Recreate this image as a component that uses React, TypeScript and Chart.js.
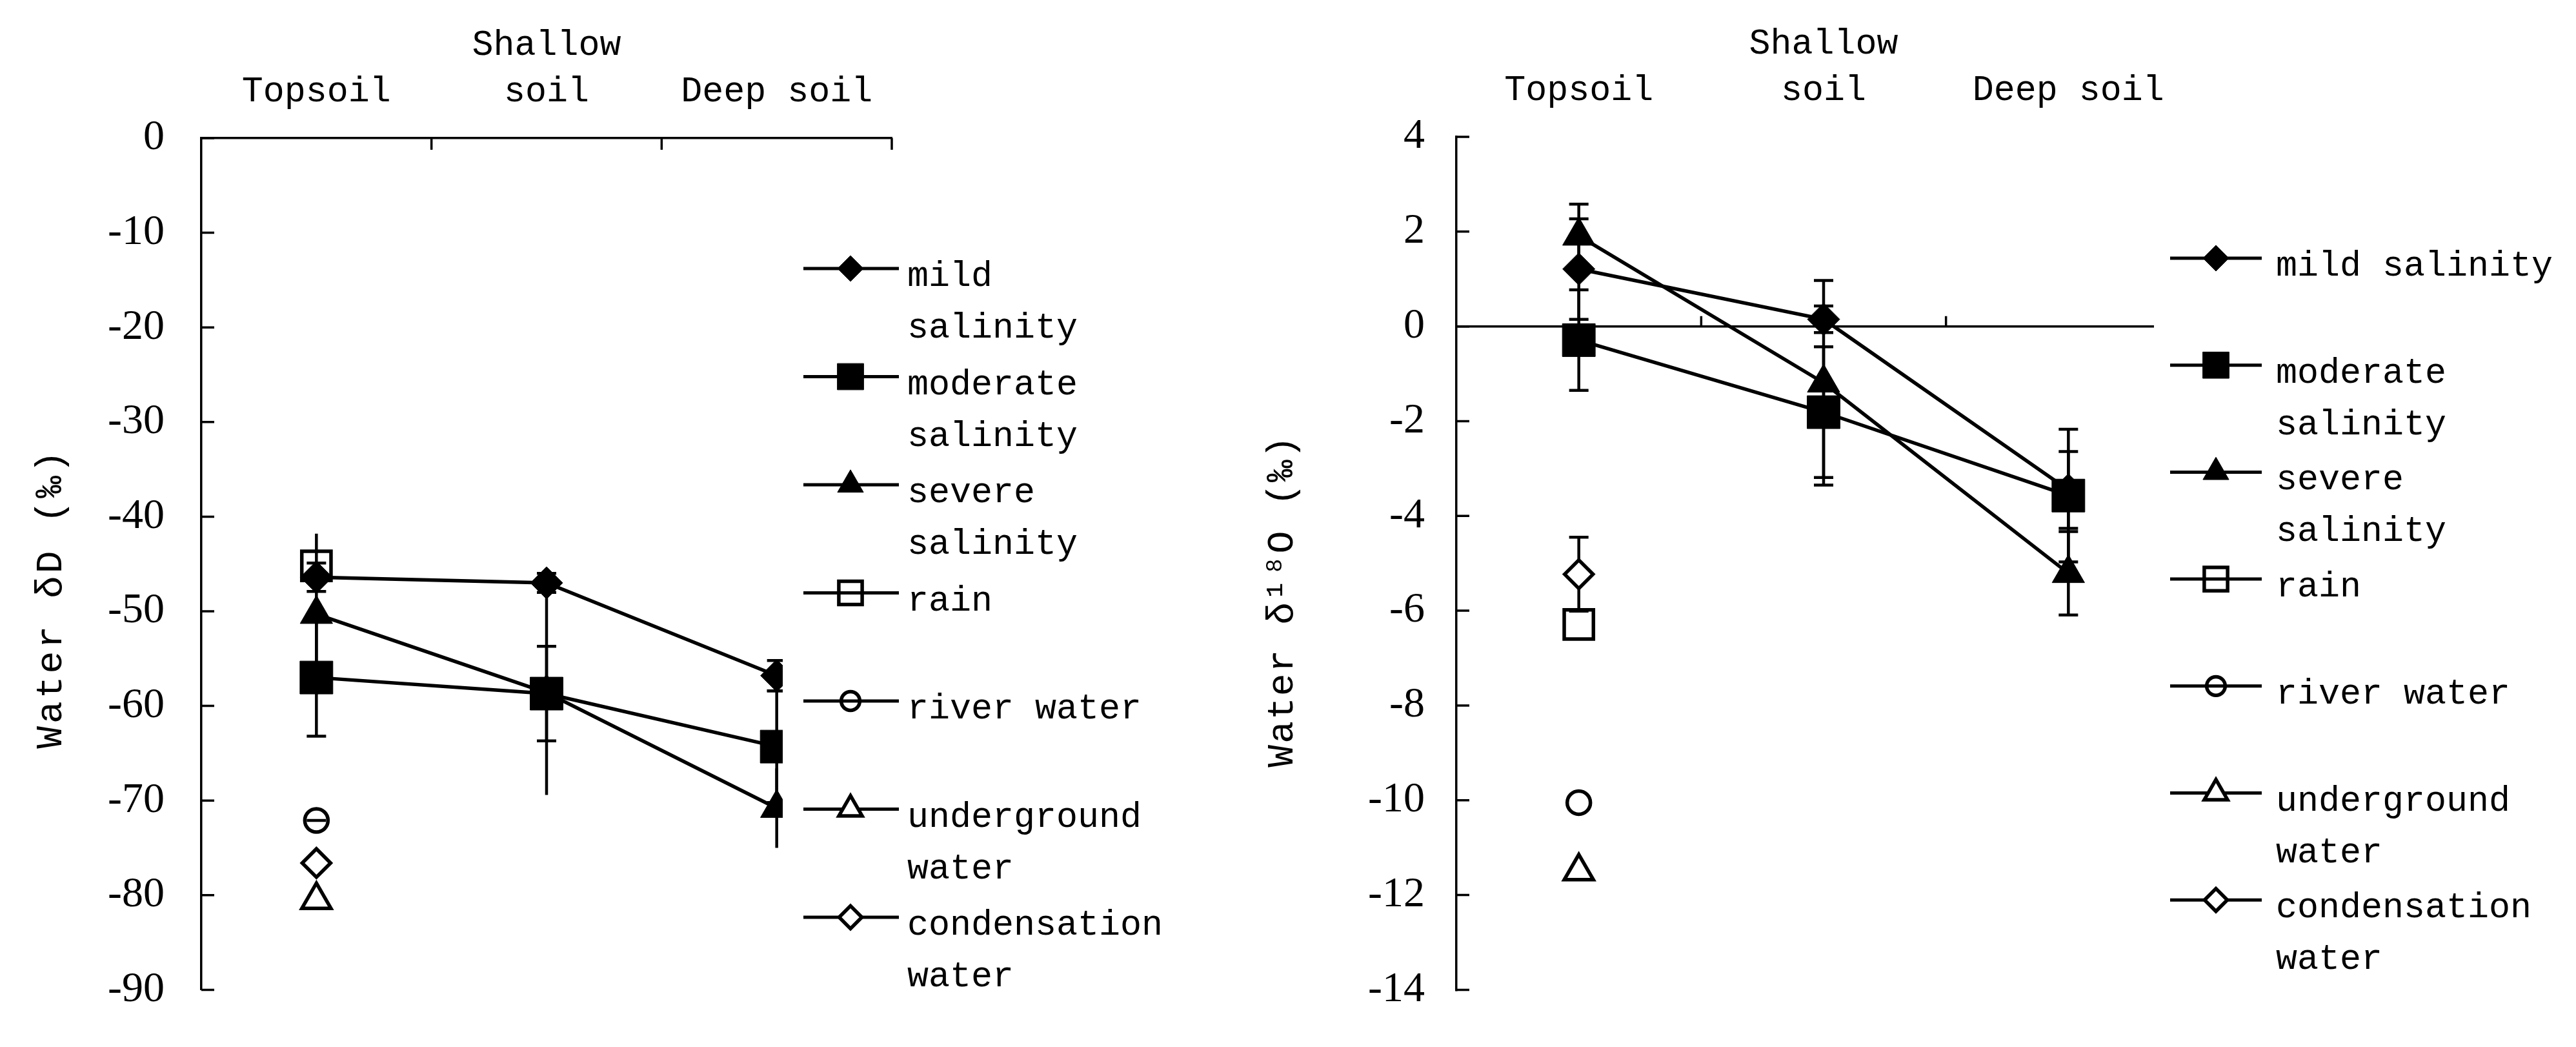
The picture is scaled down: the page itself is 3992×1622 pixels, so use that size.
import React, { useEffect, useRef } from "react";
import { Chart, registerables } from "chart.js";
import { drawPoint } from "chart.js/helpers";

Chart.register(...registerables);

// categories (top axis) and series names
const soilLayers = ["Topsoil", ["Shallow", "soil"], "Deep soil"];
const seriesNames = [
  "mild salinity",
  "moderate salinity",
  "severe salinity",
  "rain",
  "river water",
  "underground water",
  "condensation water",
];

// left panel: water δD (‰), mean and error (±)
const dMild = [-46.4, -47.0, -56.8];
const dModerate = [-57.0, -58.7, -64.3];
const dSevere = [-50.3, -58.6, -70.8];
const dRain = [-45.2, null, null];
const dRiver = [-72.1, null, null];
const dUnderground = [-80.5, null, null];
const dCondensation = [-76.6, null, null];

const dMildErr = [1.5, 1.0, 1.6];
const dModerateErr = [6.2, 5.0, 5.9];
const dSevereErr = [8.5, 10.8, 4.2];
const dRiverErr = [0, null, null];

// right panel: water δ18O (‰), mean and error (±)
const oMild = [1.21, 0.15, -3.45];
const oModerate = [-0.29, -1.81, -3.57];
const oSevere = [1.91, -1.19, -5.21];
const oRain = [-6.29, null, null];
const oRiver = [-10.05, null, null];
const oUnderground = [-11.5, null, null];
const oCondensation = [-5.23, null, null];

const oMildErr = [1.06, 0.28, 0.81];
const oModerateErr = [1.06, 1.38, 1.4];
const oSevereErr = [0.67, 2.16, 0.88];
const oCondensationErr = [0.78, null, null];

// legend wording, as wrapped in each panel
const legendLinesLeft = [
  ["mild", "salinity"],
  ["moderate", "salinity"],
  ["severe", "salinity"],
  ["rain"],
  ["river water"],
  ["underground", "water"],
  ["condensation", "water"],
];
const legendLinesRight = [
  ["mild salinity"],
  ["moderate", "salinity"],
  ["severe", "salinity"],
  ["rain"],
  ["river water"],
  ["underground", "water"],
  ["condensation", "water"],
];

const MONO = "'Liberation Mono', 'DejaVu Sans Mono', monospace";
const SERIF = "'Liberation Serif', 'DejaVu Serif', serif";
const H = 1622;

const markers = [
  { pointStyle: "rectRot", radius: 25, fill: "#000", line: true },
  { pointStyle: "rect", radius: 36, fill: "#000", line: true },
  { pointStyle: "triangle", radius: 29, fill: "#000", line: true },
  { pointStyle: "rect", radius: 32, fill: "rgba(255,255,255,0)", line: false },
  { pointStyle: "circle", radius: 18, fill: "rgba(255,255,255,0)", line: false },
  { pointStyle: "triangle", radius: 26, fill: "#fff", line: false },
  { pointStyle: "rectRot", radius: 22, fill: "#fff", line: false },
];

const makeDatasets = (values: any[], errors: any[], caps: number[]) =>
  values.map((data, i) => {
    const m = markers[i];
    const filled = m.fill === "#000";
    return {
      label: seriesNames[i],
      data,
      errors: errors[i],
      errorCap: caps[i],
      showLine: m.line,
      borderColor: "#000",
      borderWidth: 5.5,
      pointStyle: m.pointStyle,
      pointRadius: m.radius,
      pointHoverRadius: m.radius,
      pointBackgroundColor: m.fill,
      pointBorderColor: "#000",
      pointBorderWidth: filled ? 1 : 5.5,
      tension: 0,
      clip: false,
    };
  });

// error bars are drawn just before their own series
const errorBars = {
  id: "errorBars",
  beforeDatasetDraw(chart: any, args: any) {
    const ds = chart.data.datasets[args.index];
    if (!ds.errors) return;
    const yScale = chart.scales.y;
    const ctx = chart.ctx;
    ctx.save();
    ctx.strokeStyle = "#000";
    ctx.lineWidth = 4.5;
    chart.getDatasetMeta(args.index).data.forEach((pt: any, i: number) => {
      const v = ds.data[i];
      const e = ds.errors[i];
      if (v == null || e == null) return;
      const top = yScale.getPixelForValue(v + e);
      const bot = yScale.getPixelForValue(v - e);
      const c = ds.errorCap;
      ctx.beginPath();
      ctx.moveTo(pt.x, top);
      ctx.lineTo(pt.x, bot);
      if (c > 0) {
        ctx.moveTo(pt.x - c, top);
        ctx.lineTo(pt.x + c, top);
        ctx.moveTo(pt.x - c, bot);
        ctx.lineTo(pt.x + c, bot);
      }
      ctx.stroke();
    });
    ctx.restore();
  },
};

// tick marks pointing into the plot
const innerTicks = (xAtZero: boolean) => ({
  id: "innerTicks",
  beforeDatasetsDraw(chart: any) {
    const { ctx, chartArea } = chart;
    const x = chart.scales.x;
    const y = chart.scales.y;
    ctx.save();
    ctx.strokeStyle = "#000";
    ctx.lineWidth = 3.5;
    ctx.beginPath();
    y.ticks.forEach((t: any) => {
      const py = y.getPixelForValue(t.value);
      ctx.moveTo(chartArea.left, py);
      ctx.lineTo(chartArea.left + 20, py);
    });
    const n = soilLayers.length;
    for (let k = 1; k <= n; k++) {
      const px = x.getPixelForDecimal(k / n);
      if (xAtZero) {
        const py = y.getPixelForValue(0);
        ctx.moveTo(px, py);
        ctx.lineTo(px, py - 16);
      } else {
        ctx.moveTo(px, chartArea.top);
        ctx.lineTo(px, chartArea.top + 18);
      }
    }
    ctx.stroke();
    ctx.restore();
  },
});

const axisTitle = (text: string, x: number, y: number, spacing: number) => ({
  id: "axisTitle",
  afterDraw(chart: any) {
    const ctx = chart.ctx;
    ctx.save();
    ctx.translate(x, y);
    ctx.rotate(-Math.PI / 2);
    ctx.font = `58px ${MONO}`;
    ctx.letterSpacing = `${spacing}px`;
    ctx.fillStyle = "#000";
    ctx.textAlign = "center";
    ctx.textBaseline = "middle";
    ctx.fillText(text, 0, 0);
    ctx.restore();
  },
});

const boxLegend = (o: any) => ({
  id: "boxLegend",
  afterDraw(chart: any) {
    const ctx = chart.ctx;
    ctx.save();
    ctx.fillStyle = "#fff";
    ctx.fillRect(o.boxX, o.boxY, o.boxW, o.boxH);
    ctx.font = `55px ${MONO}`;
    ctx.textAlign = "left";
    ctx.textBaseline = "alphabetic";
    chart.data.datasets.forEach((ds: any, i: number) => {
      const y = o.startY + i * o.stepY;
      ctx.strokeStyle = "#000";
      ctx.lineWidth = 5;
      ctx.beginPath();
      ctx.moveTo(o.lineX0, y);
      ctx.lineTo(o.lineX1, y);
      ctx.stroke();
      ctx.fillStyle = ds.pointBackgroundColor;
      ctx.lineWidth = ds.pointBorderWidth;
      drawPoint(
        ctx,
        { pointStyle: ds.pointStyle, radius: ds.pointRadius * 0.8, borderWidth: ds.pointBorderWidth, rotation: 0 } as any,
        o.markerX,
        y
      );
      ctx.fillStyle = "#000";
      o.labels[i].forEach((line: string, j: number) => {
        ctx.fillText(line, o.textX, y + 27 + j * 80);
      });
    });
    ctx.restore();
  },
});

const baseOptions = (opts: any) => ({
  responsive: false,
  animation: false,
  events: [],
  layout: { padding: { left: 0, top: 0, right: opts.padRight, bottom: opts.padBottom } },
  plugins: { legend: { display: false }, tooltip: { enabled: false }, title: { display: false } },
  scales: {
    x: {
      type: "category",
      position: "top",
      offset: true,
      grid: { display: false },
      border: { display: opts.topBorder, color: "#000", width: 3.5 },
      ticks: {
        autoSkip: false,
        maxRotation: 0,
        padding: 28,
        color: "#000",
        font: { family: MONO, size: 55, lineHeight: "72px" },
      },
      afterFit: (s: any) => {
        s.height = opts.top;
      },
    },
    y: {
      min: opts.min,
      max: opts.max,
      grid: opts.grid,
      border: { display: true, color: "#000", width: 3.5 },
      ticks: {
        stepSize: opts.step,
        padding: 49,
        color: "#000",
        font: { family: SERIF, size: 66 },
      },
      afterFit: (s: any) => {
        s.width = opts.left;
      },
    },
  },
});

const leftConfig = () => ({
  type: "line",
  data: {
    labels: soilLayers,
    datasets: makeDatasets(
      [dMild, dModerate, dSevere, dRain, dRiver, dUnderground, dCondensation],
      [dMildErr, dModerateErr, dSevereErr, null, dRiverErr, null, null],
      [15, 15, 0, 0, 15, 0, 0]
    ),
  },
  options: baseOptions({
    padRight: 568,
    padBottom: 70,
    top: 214,
    left: 312,
    min: -90,
    max: 0,
    step: 10,
    topBorder: true,
    grid: { display: false },
  }),
  plugins: [
    innerTicks(false),
    errorBars,
    axisTitle("Water δD (‰)", 80, 927, 4),
    boxLegend({
      boxX: 1213,
      boxY: 340,
      boxW: 737,
      boxH: 1210,
      lineX0: 1245,
      lineX1: 1393,
      markerX: 1318,
      textX: 1406,
      startY: 416,
      stepY: 167.5,
      labels: legendLinesLeft,
    }),
  ],
});

const rightConfig = () => ({
  type: "line",
  data: {
    labels: soilLayers,
    datasets: makeDatasets(
      [oMild, oModerate, oSevere, oRain, oRiver, oUnderground, oCondensation],
      [oMildErr, oModerateErr, oSevereErr, null, null, null, oCondensationErr],
      [15, 15, 15, 0, 0, 0, 15]
    ),
  },
  options: baseOptions({
    padRight: 597,
    padBottom: 60,
    top: 212,
    left: 307,
    min: -14,
    max: 4,
    step: 2,
    topBorder: false,
    grid: {
      drawTicks: false,
      lineWidth: 3.5,
      color: (c: any) => (c.tick && c.tick.value === 0 ? "#000" : "rgba(0,0,0,0)"),
    },
  }),
  plugins: [
    innerTicks(true),
    errorBars,
    axisTitle("Water δ¹⁸O (‰)", 38, 931, 2),
    boxLegend({
      boxX: 1388,
      boxY: 330,
      boxW: 654,
      boxH: 1215,
      lineX0: 1413,
      lineX1: 1555,
      markerX: 1484,
      textX: 1577,
      startY: 400,
      stepY: 165.7,
      labels: legendLinesRight,
    }),
  ],
});

const Panel = ({ makeConfig, left, width }: any) => {
  const canvasRef = useRef<HTMLCanvasElement>(null);

  useEffect(() => {
    if (!canvasRef.current) return;
    const chart = new Chart(canvasRef.current, makeConfig());
    return () => chart.destroy();
  }, []);

  return (
    <canvas
      ref={canvasRef}
      width={width}
      height={H}
      style={{ position: "absolute", left, top: 0, width, height: H }}
    />
  );
};

export default function App() {
  useEffect(() => {
    document.body.style.margin = "0";
    document.body.style.background = "#fff";
  }, []);

  return (
    <div style={{ position: "relative", width: 3992, height: H, background: "#fff", overflow: "hidden" }}>
      <Panel makeConfig={leftConfig} left={0} width={1950} />
      <Panel makeConfig={rightConfig} left={1950} width={2042} />
    </div>
  );
}
